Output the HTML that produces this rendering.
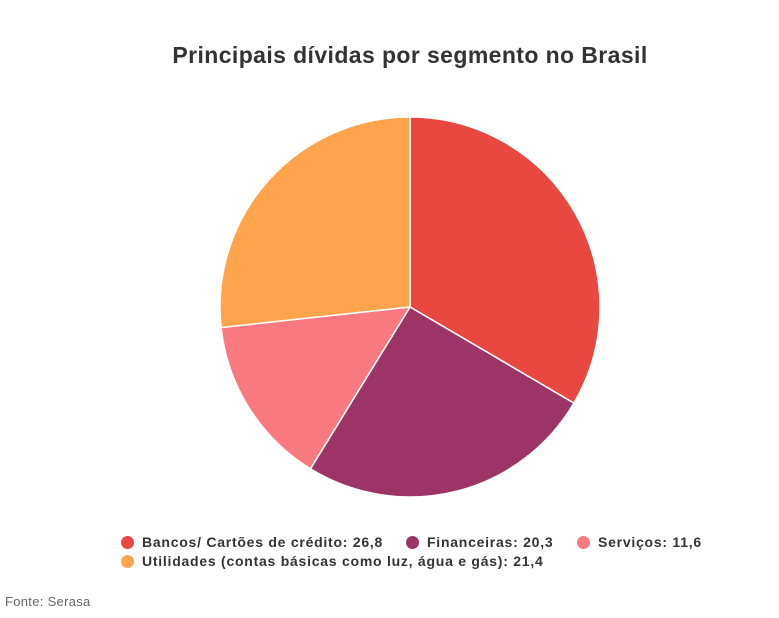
<!DOCTYPE html>
<html><head><meta charset="utf-8"><style>
body{margin:0;width:779px;height:618px;background:#fff;font-family:"Liberation Sans",sans-serif;overflow:hidden;position:relative}
.t{position:absolute;left:0;width:820px;top:42px;text-align:center;font-size:23px;font-weight:bold;color:#333;letter-spacing:0.4px}
.lg{position:absolute;font-size:14px;font-weight:bold;color:#333;white-space:nowrap;letter-spacing:0.75px}
.d{display:inline-block;width:13px;height:13px;border-radius:50%;vertical-align:-2px;margin-right:8px}
.f{position:absolute;left:5px;top:594px;font-size:13px;color:#666;letter-spacing:0.3px}
</style></head><body>
<div class="t">Principais dívidas por segmento no Brasil</div>
<svg width="779" height="618" style="position:absolute;left:0;top:0">
<g stroke="#fff" stroke-width="1.5">
<path d="M410,307 L410,117 A190,190 0 0 1 573.9,403.1 Z" fill="#e8483f"/>
<path d="M410,307 L573.9,403.1 A190,190 0 0 1 310.4,468.8 Z" fill="#9c3566"/>
<path d="M410,307 L310.4,468.8 A190,190 0 0 1 221.1,327.5 Z" fill="#f87a80"/>
<path d="M410,307 L221.1,327.5 A190,190 0 0 1 410,117 Z" fill="#fea44c"/>
</g></svg>
<div class="lg" style="left:121px;top:534px"><span class="d" style="background:#e8483f"></span>Bancos/ Cartões de crédito: 26,8</div>
<div class="lg" style="left:406px;top:534px"><span class="d" style="background:#9c3566"></span>Financeiras: 20,3</div>
<div class="lg" style="left:577px;top:534px"><span class="d" style="background:#f87a80"></span>Serviços: 11,6</div>
<div class="lg" style="left:121px;top:553px"><span class="d" style="background:#fea44c"></span>Utilidades (contas básicas como luz, água e gás): 21,4</div>
<div class="f">Fonte: Serasa</div>
</body></html>
